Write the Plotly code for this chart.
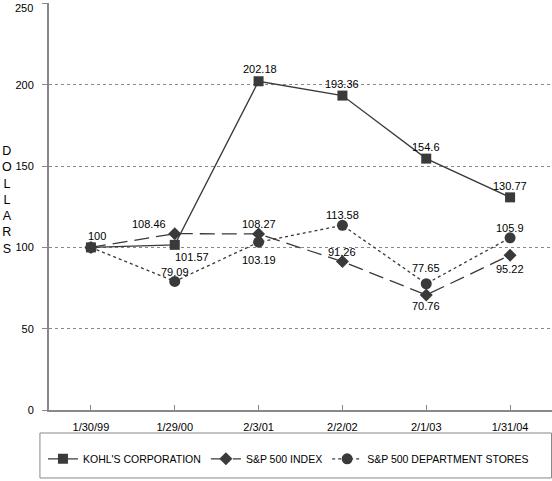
import plotly.graph_objects as go

dates = ["1/30/99", "1/29/00", "2/3/01", "2/2/02", "2/1/03", "1/31/04"]
kohls = [100, 101.57, 202.18, 193.36, 154.6, 130.77]
sp500 = [100, 108.46, 108.27, 91.26, 70.76, 95.22]
dept = [100, 79.09, 103.19, 113.58, 77.65, 105.9]
y_ticks = [0, 50, 100, 150, 200, 250]

# label offsets in pixels (dx, dy); None = no label
kohls_off = [(6, 11), (17, -12), (1, 12), (0, 12), (0, 12), (0, 11)]
sp_off = [None, (-26, 10), (0, 10), (0, 10), (0, -11), (0, -14)]
dept_off = [None, (0, 9), (0, -18), (0, 10), (0, 16), (0, 10)]

line_col = "#3a3a3a"
fig = go.Figure()
fig.add_trace(go.Scatter(x=dates, y=kohls, name="KOHL'S CORPORATION", mode="lines+markers",
                         line=dict(color=line_col, width=1.3),
                         marker=dict(symbol="square", size=10, color=line_col)))
fig.add_trace(go.Scatter(x=dates, y=sp500, name="S&P 500 INDEX", mode="lines+markers",
                         line=dict(color=line_col, width=1.3, dash="15px,7px"),
                         marker=dict(symbol="diamond", size=10, color=line_col)))
fig.add_trace(go.Scatter(x=dates, y=dept, name="S&P 500 DEPARTMENT STORES", mode="lines+markers",
                         line=dict(color=line_col, width=1.3, dash="dot"),
                         marker=dict(symbol="circle", size=11, color=line_col)))

anns = []
for vals, offs in [(kohls, kohls_off), (sp500, sp_off), (dept, dept_off)]:
    for d, v, o in zip(dates, vals, offs):
        if o is None:
            continue
        anns.append(dict(x=d, y=v, xref="x", yref="y", text=f"{v:g}", showarrow=False,
                         xshift=o[0], yshift=o[1], font=dict(size=11, color="black")))
anns.append(dict(x=-0.0835, y=0.516, xref="paper", yref="paper", xanchor="center", yanchor="middle",
                 text="D<br>O<br>L<br>L<br>A<br>R<br>S", showarrow=False,
                 font=dict(size=12.5, color="black")))
# top tick label placed just inside the page edge
anns.append(dict(x=0, y=1, xref="paper", yref="paper", xanchor="right", yanchor="top",
                 xshift=-14, yshift=3, text=str(y_ticks[-1]), showarrow=False,
                 font=dict(size=11, color="black")))

fig.update_layout(
    width=552, height=481,
    margin=dict(l=49, r=0, t=3, b=71, autoexpand=False),
    paper_bgcolor="white", plot_bgcolor="white",
    font=dict(family="Liberation Sans, Arial, sans-serif", size=11, color="black"),
    showlegend=True,
    legend=dict(orientation="h", x=-0.012, xanchor="left", y=-0.12, yanchor="middle",
                font=dict(size=10.5), bgcolor="rgba(0,0,0,0)", itemwidth=30,
                tracegroupgap=0),
    annotations=anns,
    shapes=[dict(type="rect", xref="paper", yref="paper", x0=-0.018, x1=0.999, y0=-0.167, y1=-0.0565,
                 line=dict(color="#888888", width=1))],
)
fig.update_xaxes(type="category", range=[-0.5, 5.5], showline=True, linecolor="#888888", linewidth=2,
                 ticks="inside", ticklen=5, tickcolor="#888888", showgrid=False, zeroline=False,
                 ticklabelstandoff=6, automargin=False)
fig.update_yaxes(range=[0, 250.3], tickvals=y_ticks,
                 ticktext=[str(t) for t in y_ticks[:-1]] + [""],
                 showline=True, linecolor="#888888", linewidth=2, ticklabeloverflow="allow",
                 ticks="outside", ticklen=5, tickcolor="#888888", showgrid=True,
                 gridcolor="#888888", griddash="dot", gridwidth=1, zeroline=False,
                 ticklabelstandoff=6, automargin=False)

fig.write_html("out.html", config={"displayModeBar": False},
               post_script="document.body.style.margin='0';")
